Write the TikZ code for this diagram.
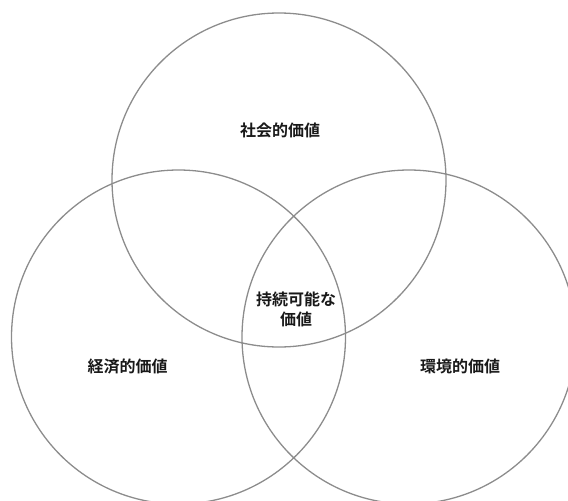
\documentclass[tikz,border=0pt]{standalone}
\usepackage{fontspec}
\newfontfamily\jp{Noto Sans CJK JP}[BoldFont={* Bold}]
\begin{document}
\begin{tikzpicture}[x=1pt,y=-1pt,
  ring/.style={circle,draw=black!45,line width=1.3pt,inner sep=0pt,minimum size=334pt},
  lbl/.style={font=\jp\bfseries\fontsize{16pt}{20pt}\selectfont,text=black!90,align=center,inner sep=0pt}]
\useasboundingbox (0,0) rectangle (568,501);
\clip (0,0) rectangle (568,501);
\node[ring] (social) at (279,180) {};
\node[ring] (econ) at (178.5,337) {};
\node[ring] (env) at (409,337) {};
\node[lbl] (tsocial) at (280,130) {社会的価値};
\node[lbl] (tecon) at (127.5,366) {経済的価値};
\node[lbl] (tenv) at (460,366) {環境的価値};
\node[lbl] (tsus) at (296,309) {持続可能な\\価値};
\end{tikzpicture}
\end{document}
